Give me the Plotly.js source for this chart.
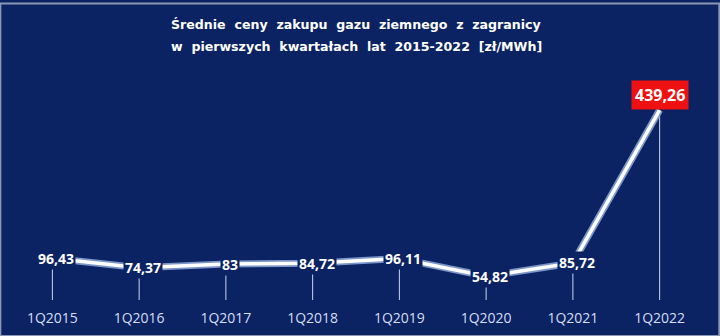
<!DOCTYPE html>
<html><head><meta charset="utf-8">
<script src="https://cdn.plot.ly/plotly-3.0.1.min.js"></script>
<style>html,body{margin:0;padding:0;background:#0b2362;}#chart{width:720px;height:336px;}</style>
</head><body><div id="chart"></div>
<script>
const categories = ["1Q2015","1Q2016","1Q2017","1Q2018","1Q2019","1Q2020","1Q2021","1Q2022"];
const prices = [96.43, 74.37, 83, 84.72, 96.11, 54.82, 85.72, 439.26];
const priceLabels = ["96,43","74,37","83","84,72","96,11","54,82","85,72","439,26"];
const titleLines = ["Średnie  ceny  zakupu  gazu  ziemnego  z  zagranicy",
                    "w  pierwszych  kwartałach  lat  2015-2022  [zł/MWh]"];

const navy = "#0b2362";
const zeros = prices.map(() => 0);

const traces = [
  {x: categories, y: prices, type: "scatter", mode: "lines",
   line: {color: "#7d96c8", width: 7}, hoverinfo: "skip",
   error_y: {type: "data", symmetric: false, array: zeros, arrayminus: prices,
             color: "#c9d4ee", thickness: 1, width: 0}},
  {x: categories, y: prices, type: "scatter", mode: "lines",
   line: {color: "#ffffff", width: 3.5}, hoverinfo: "skip"}
];

const last = prices.length - 1;
const annotations = categories.map((c, i) => {
  const isPeak = i === last;
  return {
    x: c, y: prices[i], xref: "x", yref: "y",
    text: "<b>" + priceLabels[i] + "</b>",
    showarrow: false,
    font: {family: "Open Sans, Liberation Sans, sans-serif", size: isPeak ? 16 : 14, color: "#ffffff"},
    bgcolor: isPeak ? "#ee1111" : navy,
    borderpad: isPeak ? 3 : 1,
    yanchor: isPeak ? "bottom" : "middle",
    xshift: isPeak ? 0 : 4
  };
});
const titleY = [1.15, 1.058];
titleLines.forEach((t, i) => annotations.push({
  xref: "paper", yref: "paper", x: 0.5, y: titleY[i], xanchor: "center", yanchor: "middle",
  text: "<b>" + t + "</b>", showarrow: false,
  font: {family: "DejaVu Sans, Verdana, sans-serif", size: 12.6, color: "#ffffff"}
}));

const layout = {
  width: 720, height: 336,
  paper_bgcolor: navy, plot_bgcolor: navy,
  margin: {l: 9, r: 17, t: 60, b: 36},
  showlegend: false,
  xaxis: {
    type: "category", range: [-0.5, 7.5], showgrid: false, zeroline: false, showline: false,
    ticks: "", ticklabelstandoff: 8,
    tickfont: {family: "Open Sans, Liberation Sans, sans-serif", size: 14, color: "#d5def5"},
    fixedrange: true
  },
  yaxis: {
    range: [0, 555], visible: false, showgrid: false, zeroline: false, fixedrange: true
  },
  annotations: annotations,
  shapes: [{type: "rect", xref: "paper", yref: "paper", x0: -0.0125, x1: 1.0235, y0: -0.15, y1: 1.235,
            line: {color: "#8c97b3", width: 2}, fillcolor: "rgba(0,0,0,0)"}]
};

Plotly.newPlot("chart", traces, layout, {displayModeBar: false, staticPlot: true});
</script>
</body></html>
